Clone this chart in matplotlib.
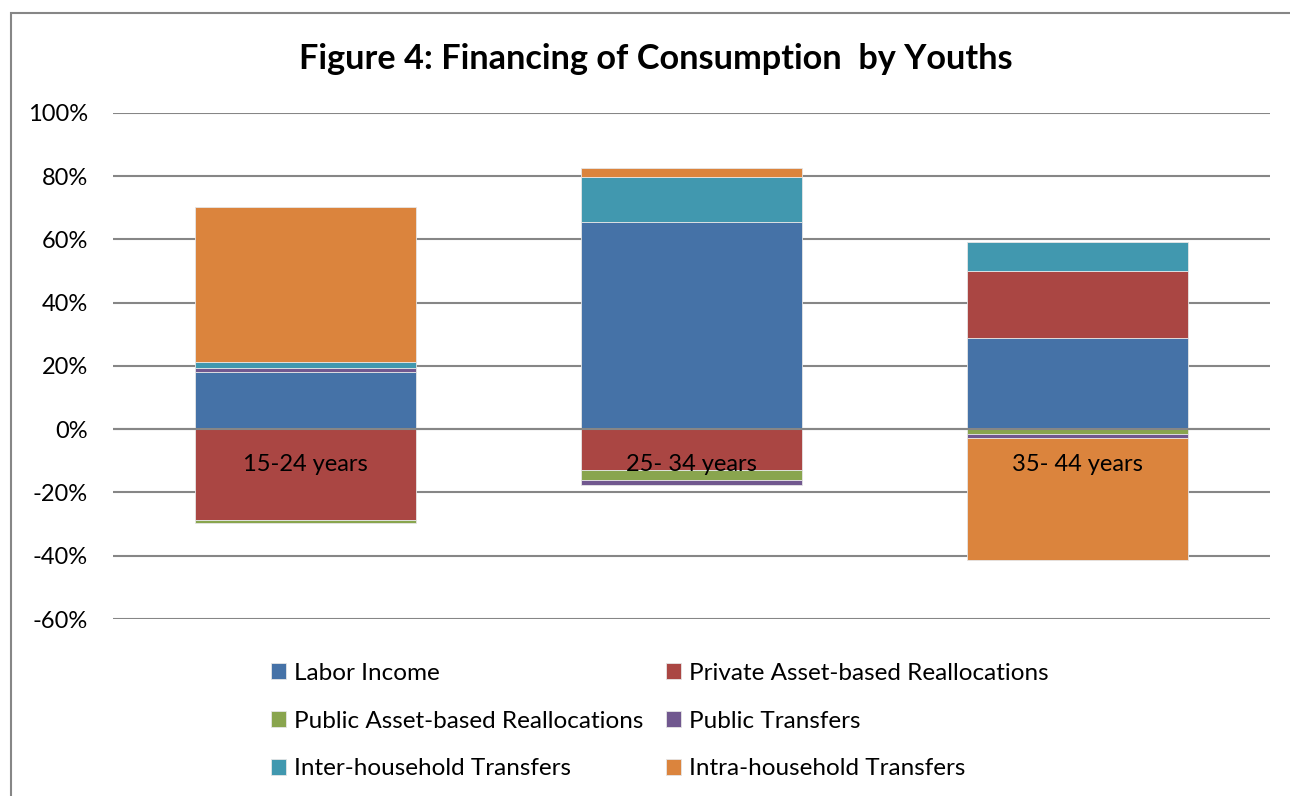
import numpy as np
import matplotlib
matplotlib.use("Agg")
import matplotlib.pyplot as plt
from matplotlib.patches import Rectangle
from matplotlib.ticker import PercentFormatter

plt.rcParams['font.family'] = ['Lato', 'DejaVu Sans']
plt.rcParams['axes.unicode_minus'] = False

age_groups = ['15-24 years', '25- 34 years', '35- 44 years']
series = ['Labor Income', 'Private Asset-based Reallocations',
          'Public Asset-based Reallocations', 'Public Transfers',
          'Inter-household Transfers', 'Intra-household Transfers']
labor_income = [18.2, 65.6, 28.7]
private_asset = [-28.8, -13.0, 21.4]
public_asset = [-1.0, -3.1, -1.4]
public_transfers = [1.3, -1.4, -1.5]
inter_household = [1.9, 14.3, 9.0]
intra_household = [49.0, 2.7, -38.4]
colors = ['#4572A7', '#AA4643', '#89A54E', '#71588F', '#4198AF', '#DB843D']

values = [labor_income, private_asset, public_asset, public_transfers,
          inter_household, intra_household]

fig = plt.figure(figsize=(12.9, 7.96), dpi=100)
ax = fig.add_axes([113/1290, 177/796, 1157/1290, 506/796])

x = np.arange(len(age_groups))
pos_base = np.zeros(len(x))
neg_base = np.zeros(len(x))
bars = []
for name, vals, col in zip(series, values, colors):
    v = np.array(vals)
    bottom = np.where(v >= 0, pos_base, neg_base)
    b = ax.bar(x, v, 0.573, bottom=bottom, color=col, label=name,
               edgecolor='#e6e6e6', linewidth=0.6, zorder=3)
    bars.append(b)
    pos_base += np.where(v >= 0, v, 0)
    neg_base += np.where(v < 0, v, 0)

ax.set_xlim(-0.5, 2.5)
ax.set_ylim(-60, 100)
ax.set_yticks(np.arange(-60, 101, 20))
ax.yaxis.set_major_formatter(PercentFormatter(decimals=0))
ax.tick_params(axis='y', length=0, pad=18, labelsize=17)
ax.set_xticks([])
ax.grid(axis='y', color='#868686', linewidth=1.5, zorder=0)
for s in ax.spines.values():
    s.set_visible(False)
ax.axhline(0, color='#868686', linewidth=1.5, zorder=4)

for xi, lab in zip(x, age_groups):
    ax.text(xi, -11.3, lab, ha='center', va='center', fontsize=17, zorder=5)

fig.text(0.508, 0.926, 'Figure 4: Financing of Consumption  by Youths',
         ha='center', va='center', fontsize=24.7, fontweight='bold')

order = [0, 2, 4, 1, 3, 5]
fig.legend([bars[i] for i in order], [series[i] for i in order],
           ncol=2, loc='center left', bbox_to_anchor=(271/1290, 75/796),
           frameon=False, fontsize=17.5, handlelength=0.63, handleheight=0.63,
           handletextpad=0.3, columnspacing=0.95, labelspacing=1.1,
           borderpad=0, borderaxespad=0)

fig.patches.append(Rectangle((11/1290, -0.1), 1.1, (796 - 13)/796 + 0.1,
                             transform=fig.transFigure, fill=False,
                             edgecolor='#868686', linewidth=1.5))

fig.savefig('out.png', dpi=100)
